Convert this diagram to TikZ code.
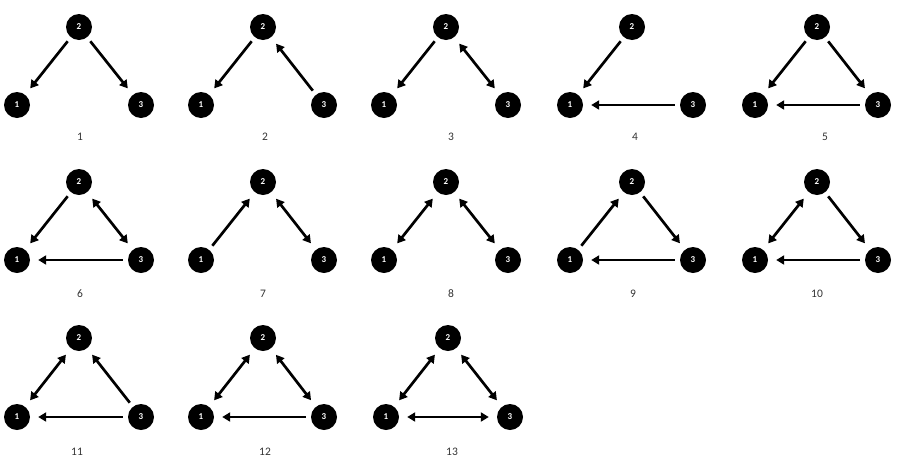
\documentclass[tikz,border=0pt]{standalone}
\usepackage{fontspec}
\setmainfont{Carlito}
\usetikzlibrary{arrows.meta}
\tikzset{
  vtx/.style={circle,fill=black,minimum size=26pt,inner sep=0pt,text=white,font=\bfseries\fontsize{9}{9}\selectfont},
  lbl/.style={text=black!80,font=\fontsize{11.5}{11.5}\selectfont,inner sep=0pt},
  one/.style={line width=2.7pt,-{Triangle[length=8pt,width=9pt]},shorten <=5pt,shorten >=8pt},
  two/.style={line width=2.7pt,{Triangle[length=8pt,width=9pt]}-{Triangle[length=8pt,width=9pt]},shorten <=8pt,shorten >=8pt}
}
% #1 id, #2 x of 1, #3 x of 2, #4 x of 3, #5 y of 2, #6 y of 1 and 3, #7 label x, #8 label y, #9 label
\newcommand{\triad}[9]{%
  \node[vtx] (#1-1) at (#2,#6) {1};
  \node[vtx] (#1-2) at (#3,#5) {2};
  \node[vtx] (#1-3) at (#4,#6) {3};
  \node[lbl] (#1-l) at (#7,#8) {#9};
}
\begin{document}
\begin{tikzpicture}[x=1pt,y=-1pt]
\useasboundingbox (0,0) rectangle (900,464);
% row 1
\triad{a}{17}{79}{141}{27}{105}{80}{137}{1}
\triad{b}{201}{263}{324}{27}{105}{265}{137}{2}
\triad{c}{384}{446}{508}{27}{105}{451}{137}{3}
\triad{d}{570}{632}{693}{27}{105}{635}{137}{4}
\triad{e}{755}{817}{878}{27}{105}{825}{137}{5}
% row 2
\triad{f}{17}{79}{141}{182}{260}{80}{294}{6}
\triad{g}{201}{263}{324}{182}{260}{263}{294}{7}
\triad{h}{384}{446}{508}{182}{260}{451}{294}{8}
\triad{i}{570}{632}{693}{182}{260}{633}{294}{9}
\triad{j}{755}{817}{878}{182}{260}{817}{294}{10}
% row 3
\triad{k}{17}{79}{141}{338}{417}{77}{452}{11}
\triad{m}{201}{263}{324}{338}{417}{265}{452}{12}
\triad{n}{386}{448}{510}{338}{417}{452}{452}{13}
% edges
\draw[one] (a-2) -- (a-1); \draw[one] (a-2) -- (a-3);
\draw[one] (b-2) -- (b-1); \draw[one] (b-3) -- (b-2);
\draw[one] (c-2) -- (c-1); \draw[two] (c-2) -- (c-3);
\draw[one] (d-2) -- (d-1); \draw[one] (d-3) -- (d-1);
\draw[one] (e-2) -- (e-1); \draw[one] (e-2) -- (e-3); \draw[one] (e-3) -- (e-1);
\draw[one] (f-2) -- (f-1); \draw[two] (f-2) -- (f-3); \draw[one] (f-3) -- (f-1);
\draw[one] (g-1) -- (g-2); \draw[two] (g-2) -- (g-3);
\draw[two] (h-1) -- (h-2); \draw[two] (h-2) -- (h-3);
\draw[one] (i-1) -- (i-2); \draw[one] (i-2) -- (i-3); \draw[one] (i-3) -- (i-1);
\draw[two] (j-1) -- (j-2); \draw[one] (j-2) -- (j-3); \draw[one] (j-3) -- (j-1);
\draw[two] (k-1) -- (k-2); \draw[one] (k-3) -- (k-2); \draw[one] (k-3) -- (k-1);
\draw[two] (m-1) -- (m-2); \draw[two] (m-2) -- (m-3); \draw[one] (m-3) -- (m-1);
\draw[two] (n-1) -- (n-2); \draw[two] (n-2) -- (n-3); \draw[two] (n-1) -- (n-3);
\end{tikzpicture}
\end{document}
